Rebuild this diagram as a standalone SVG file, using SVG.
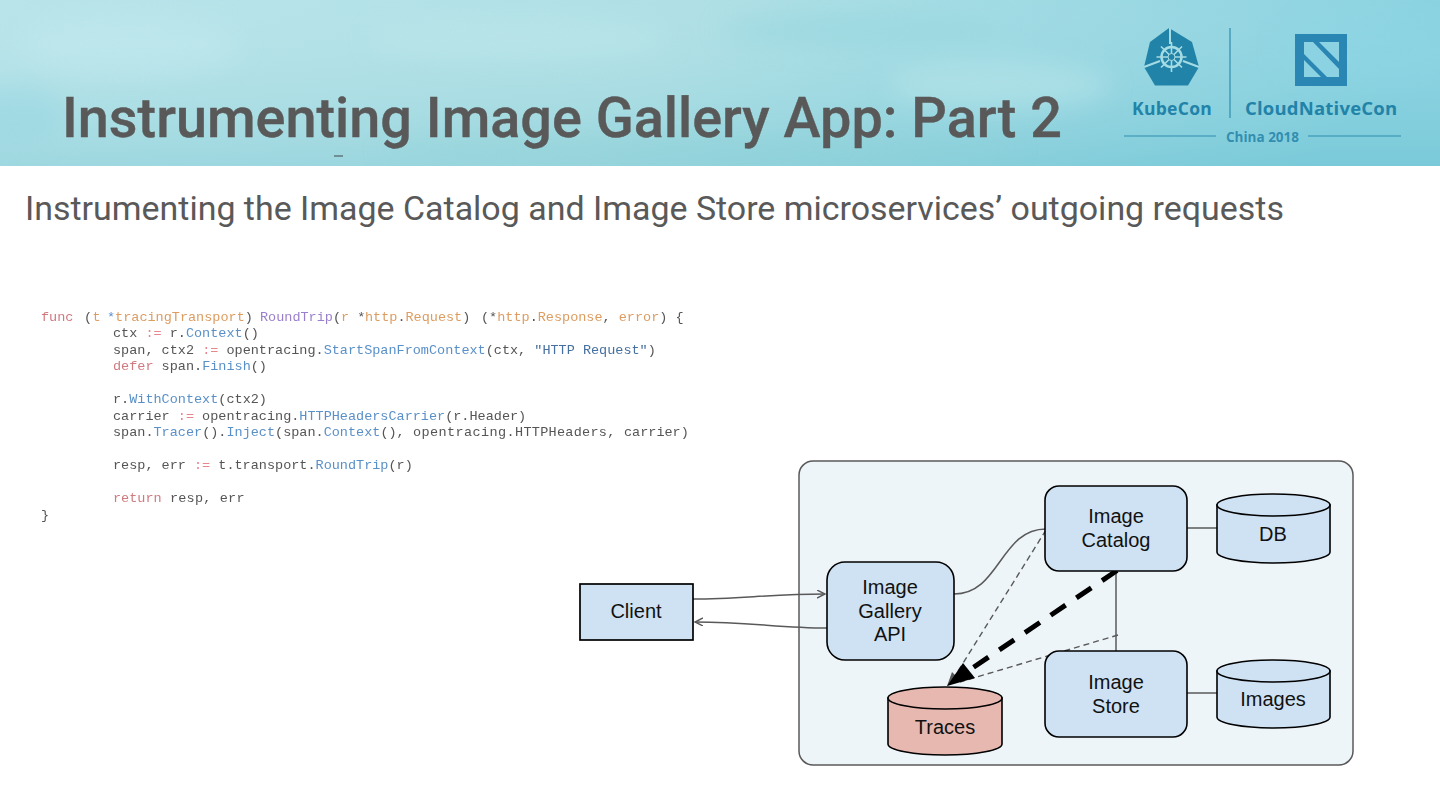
<svg xmlns="http://www.w3.org/2000/svg" width="1440" height="810" viewBox="0 0 1440 810">
<style>
.code{font-family:"Liberation Mono",monospace;font-size:13.5px;fill:#555;white-space:pre}
.k{fill:#d07a80}.v{fill:#dd9c60}.f{fill:#5a90c8}.p{fill:#9a80cc}.s{fill:#45709f}.o{fill:#e8868e}
.node{fill:#cfe2f3;stroke:#000;stroke-width:1.6}
.lbl{font-family:"Liberation Sans",Arial,sans-serif;font-size:20px;fill:#111;text-anchor:middle}
.cyl{stroke:#000;stroke-width:1.6}
.conn{fill:none;stroke:#595959;stroke-width:1.5}
.dash{fill:none;stroke:#595959;stroke-width:1.4;stroke-dasharray:6 4}
.logo{font-family:"Open Sans",sans-serif;font-weight:700;fill:#2283a9}
</style>
<defs>
<linearGradient id="bn" x1="0" y1="0" x2="1" y2="0.1">
<stop offset="0" stop-color="#b5e3e9"/><stop offset="0.5" stop-color="#abdee4"/><stop offset="1" stop-color="#84d0df"/>
</linearGradient>
<linearGradient id="bv" x1="0" y1="0" x2="0" y2="1">
<stop offset="0" stop-color="#fff" stop-opacity="0.05"/><stop offset="1" stop-color="#4fb0c0" stop-opacity="0.2"/>
</linearGradient>
<filter id="bl" x="-20%" y="-50%" width="140%" height="200%"><feGaussianBlur stdDeviation="12"/></filter>
<filter id="soft" x="-2%" y="-2%" width="104%" height="104%"><feGaussianBlur stdDeviation="0.3"/></filter>
<clipPath id="bc"><rect width="1440" height="166"/></clipPath>
<marker id="ah" markerWidth="10" markerHeight="10" refX="8" refY="4" orient="auto" markerUnits="userSpaceOnUse"><path d="M0 0L8 4L0 8" fill="none" stroke="#595959" stroke-width="1.4"/></marker>
</defs>
<rect width="1440" height="810" fill="#fff"/>
<g id="banner" clip-path="url(#bc)">
<rect width="1440" height="166" fill="url(#bn)"/>
<rect width="1440" height="166" fill="url(#bv)"/>
<g filter="url(#bl)" opacity="0.5">
<ellipse cx="130" cy="45" rx="110" ry="30" fill="#c2e9ef"/>
<ellipse cx="15" cy="115" rx="50" ry="28" fill="#97d6e2"/>
<ellipse cx="520" cy="40" rx="150" ry="20" fill="#bde7ea"/>
<ellipse cx="860" cy="30" rx="140" ry="18" fill="#95d5dd"/>
<ellipse cx="1000" cy="85" rx="110" ry="25" fill="#bce6ea"/>
<ellipse cx="1370" cy="50" rx="90" ry="35" fill="#8ed5e4"/>
<ellipse cx="700" cy="150" rx="320" ry="10" fill="#8cd0d6"/>
</g>
<rect x="334" y="155" width="9" height="2" fill="#6f8f96"/>
</g>
<g id="logos">
<path d="M1169 28L1150 42L1144 67L1155 85.500H1188L1199 67L1192 42Z" fill="#2283a9"/>
<path d="M1170 28V44M1144 67L1160 61M1199 67L1183 61" stroke="#a5dce4" stroke-width="2" fill="none"/>
<circle cx="1171.500" cy="57" r="10" fill="none" stroke="#a5dce4" stroke-width="2.500"/>
<path d="M1171.500 42V72M1156.500 57H1186.500M1161 46.500L1182 67.500M1182 46.500L1161 67.500" stroke="#a5dce4" stroke-width="1.600"/>
<circle cx="1171.500" cy="57" r="3.500" fill="#2283a9" stroke="#a5dce4"/>
<line x1="1230" y1="28" x2="1230" y2="118" stroke="#2f8db0" stroke-width="1.200"/>
<rect x="1295" y="34" width="52" height="52" fill="#2a86b2"/>
<rect x="1304" y="42" width="35" height="35" fill="#8bd3e2"/>
<path d="M1313 42H1319L1339 62V69Z M1304 54L1327 77H1321L1304 60Z" fill="#2a86b2"/>
<text class="logo" x="1132" y="115" font-size="17.500" letter-spacing="0.300">KubeCon</text>
<text class="logo" x="1245" y="115" font-size="18.500" letter-spacing="0.200">CloudNativeCon</text>
<text class="logo" x="1226" y="142" font-size="13.500" fill-opacity="0.85">China 2018</text>
<line x1="1124" y1="136" x2="1216" y2="136" stroke="#2f8db0"/>
<line x1="1308" y1="136" x2="1401" y2="136" stroke="#2f8db0"/>
</g>
<text id="title" x="62" y="137" font-family="Roboto,sans-serif" font-weight="500" font-size="55.800" fill="#595959" stroke="#595959" stroke-width="0.400">Instrumenting Image Gallery App: Part 2</text>
<text id="subtitle" x="25" y="220" font-family="Roboto,sans-serif" font-size="33.950" fill="#595959">Instrumenting the Image Catalog and Image Store microservices’ outgoing requests</text>
<g id="code" filter="url(#soft)">
<text class="code" x="41" y="321"><tspan class="k">func</tspan> <tspan x="84">(</tspan><tspan class="v" x="92.500">t</tspan> <tspan class="f" x="107">*</tspan><tspan class="v">tracingTransport</tspan>) <tspan class="p" x="260">RoundTrip</tspan>(<tspan class="v">r</tspan> *<tspan class="v" x="365">http</tspan>.<tspan class="v">Request</tspan>) <tspan x="481">(</tspan>*<tspan class="v">http</tspan>.<tspan class="v">Response</tspan>, <tspan class="v">error</tspan>) {</text>
<text class="code" x="113" y="337">ctx <tspan class="o">:=</tspan> r.<tspan class="f">Context</tspan>()</text>
<text class="code" x="113" y="354">span, ctx2 <tspan class="o">:=</tspan> opentracing.<tspan class="f">StartSpanFromContext</tspan>(ctx, <tspan class="s">"HTTP Request"</tspan>)</text>
<text class="code" x="113" y="370"><tspan class="k">defer</tspan> span.<tspan class="f">Finish</tspan>()</text>
<text class="code" x="113" y="403">r.<tspan class="f">WithContext</tspan>(ctx2)</text>
<text class="code" x="113" y="420">carrier <tspan class="o">:=</tspan> opentracing.<tspan class="f">HTTPHeadersCarrier</tspan>(r.Header)</text>
<text class="code" x="113" y="436">span.<tspan class="f">Tracer</tspan>().<tspan class="f">Inject</tspan>(span.<tspan class="f">Context</tspan>(), <tspan x="413" letter-spacing="0.400">opentracing.</tspan><tspan x="515" letter-spacing="0.280">HTTPHeaders, </tspan><tspan x="624">carrier)</tspan></text>
<text class="code" x="113" y="469">resp, err <tspan class="o">:=</tspan> t.transport.<tspan class="f">RoundTrip</tspan>(r)</text>
<text class="code" x="113" y="502"><tspan class="k">return</tspan> <tspan x="170" letter-spacing="0.200">resp, err</tspan></text>
<text class="code" x="41" y="519">}</text>
</g>
<rect id="panel" x="799" y="461" width="554" height="304" rx="14" fill="#eef5f9" stroke="#595959" stroke-width="1.500"/>
<g id="connectors">
<path class="conn" d="M693 599C740 599 770 594 825 594" marker-end="url(#ah)"/>
<path class="conn" d="M827 628C780 628 750 622 695 622" marker-end="url(#ah)"/>
<path class="conn" d="M954 594C1000 594 1000 529 1046 529"/>
<path class="conn" d="M1187 528H1217"/>
<path class="conn" d="M1187 693H1217"/>
<path class="conn" d="M1116 571V651"/>
<path class="dash" d="M1046 530L950 684"/>
<path class="dash" d="M1118 635L960 682"/>
<path d="M947 686L952 672L960 680Z" fill="#595959"/>
<path d="M1117 570.500L968 671" fill="none" stroke="#000" stroke-width="5" stroke-dasharray="18 13"/>
<path d="M947 686L963 663L975 678Z" fill="#000"/>
</g>
<g id="client"><rect x="580" y="584" width="113" height="56" fill="#cfe2f3" stroke="#000" stroke-width="1.700"/><text class="lbl" x="636" y="618">Client</text></g>
<g id="gallery"><rect class="node" x="827" y="562" width="127" height="98" rx="18"/><text class="lbl" x="890" y="594">Image</text><text class="lbl" x="890" y="618">Gallery</text><text class="lbl" x="890" y="641">API</text></g>
<g id="catalog"><rect class="node" x="1045" y="486" width="142" height="85" rx="14"/><text class="lbl" x="1116" y="523">Image</text><text class="lbl" x="1116" y="547">Catalog</text></g>
<g id="store"><rect class="node" x="1045" y="651" width="142" height="86" rx="14"/><text class="lbl" x="1116" y="689">Image</text><text class="lbl" x="1116" y="713">Store</text></g>
<g id="db"><path class="cyl" fill="#cfe2f3" d="M1217 505V552A56.500 11 0 0 0 1330 552V505Z"/><ellipse class="cyl" fill="#cfe2f3" cx="1273.500" cy="505" rx="56.500" ry="11"/><text class="lbl" x="1273" y="541">DB</text></g>
<g id="images"><path class="cyl" fill="#cfe2f3" d="M1217 671V717A56.500 11 0 0 0 1330 717V671Z"/><ellipse class="cyl" fill="#cfe2f3" cx="1273.500" cy="671" rx="56.500" ry="11"/><text class="lbl" x="1273" y="706">Images</text></g>
<g id="traces"><path class="cyl" fill="#e6b8af" d="M888 698V744A57 11 0 0 0 1002 744V698Z"/><ellipse class="cyl" fill="#e6b8af" cx="945" cy="698" rx="57" ry="11"/><text class="lbl" x="945" y="734">Traces</text></g>
</svg>
